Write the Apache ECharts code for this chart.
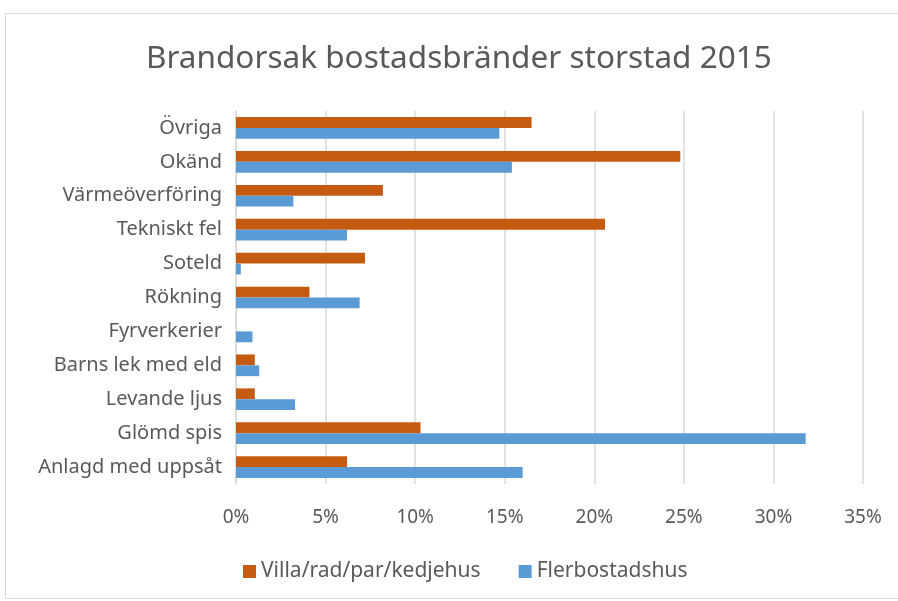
<!DOCTYPE html>
<html><head><meta charset="utf-8">
<script src="https://cdn.jsdelivr.net/npm/echarts@6/dist/echarts.min.js"></script>
<style>html,body{margin:0;padding:0;background:#fff}#c{width:898px;height:601px}</style>
</head><body><div id="c"></div>
<script>
const categories = ['Övriga','Okänd','Värmeöverföring','Tekniskt fel','Soteld','Rökning','Fyrverkerier','Barns lek med eld','Levande ljus','Glömd spis','Anlagd med uppsåt'];
const villa = [16.5, 24.8, 8.2, 20.6, 7.2, 4.1, 0, 1.05, 1.05, 10.3, 6.2];
const fler = [14.7, 15.4, 3.2, 6.2, 0.27, 6.9, 0.92, 1.3, 3.3, 31.8, 16.0];
const seriesNames = ['Villa/rad/par/kedjehus','Flerbostadshus'];
const titleText = 'Brandorsak bostadsbränder storstad 2015';

const chart = echarts.init(document.getElementById('c'), null, {renderer:'canvas'});
const font = 'Noto Sans';
chart.setOption({
  backgroundColor:'#fff',
  animation:false,
  graphic:[{type:'rect',shape:{x:5.5,y:13.5,width:900,height:585},style:{fill:'none',stroke:'#D9D9D9',lineWidth:1}}],
  title:{text:titleText,left:141,top:38,textStyle:{fontFamily:font,fontSize:31.5,fontWeight:'normal',color:'#595959'}},
  legend:{bottom:14,left:238,itemWidth:13,itemHeight:13,itemGap:38,icon:'rect',
    textStyle:{fontFamily:font,fontSize:21,color:'#595959'},data:seriesNames},
  grid:{left:236,right:35,top:111,bottom:117,containLabel:false},
  xAxis:{type:'value',min:0,max:35,interval:5,
    axisLabel:{formatter:'{value}%',fontFamily:font,fontSize:19,color:'#595959',margin:24},
    axisLine:{show:false},axisTick:{show:false},
    splitLine:{lineStyle:{color:'#D9D9D9',width:1.5}}},
  yAxis:{type:'category',data:categories,inverse:true,
    axisLabel:{fontFamily:font,fontSize:20,color:'#595959',margin:14},
    axisLine:{lineStyle:{color:'#D9D9D9',width:1.5}},axisTick:{show:false}},
  series:[
    {name:seriesNames[0],type:'bar',data:villa,itemStyle:{color:'#C55A11'},barGap:'0%',barCategoryGap:'36%'},
    {name:seriesNames[1],type:'bar',data:fler,itemStyle:{color:'#5B9BD5'},barGap:'0%',barCategoryGap:'36%'}
  ]
});
</script></body></html>
